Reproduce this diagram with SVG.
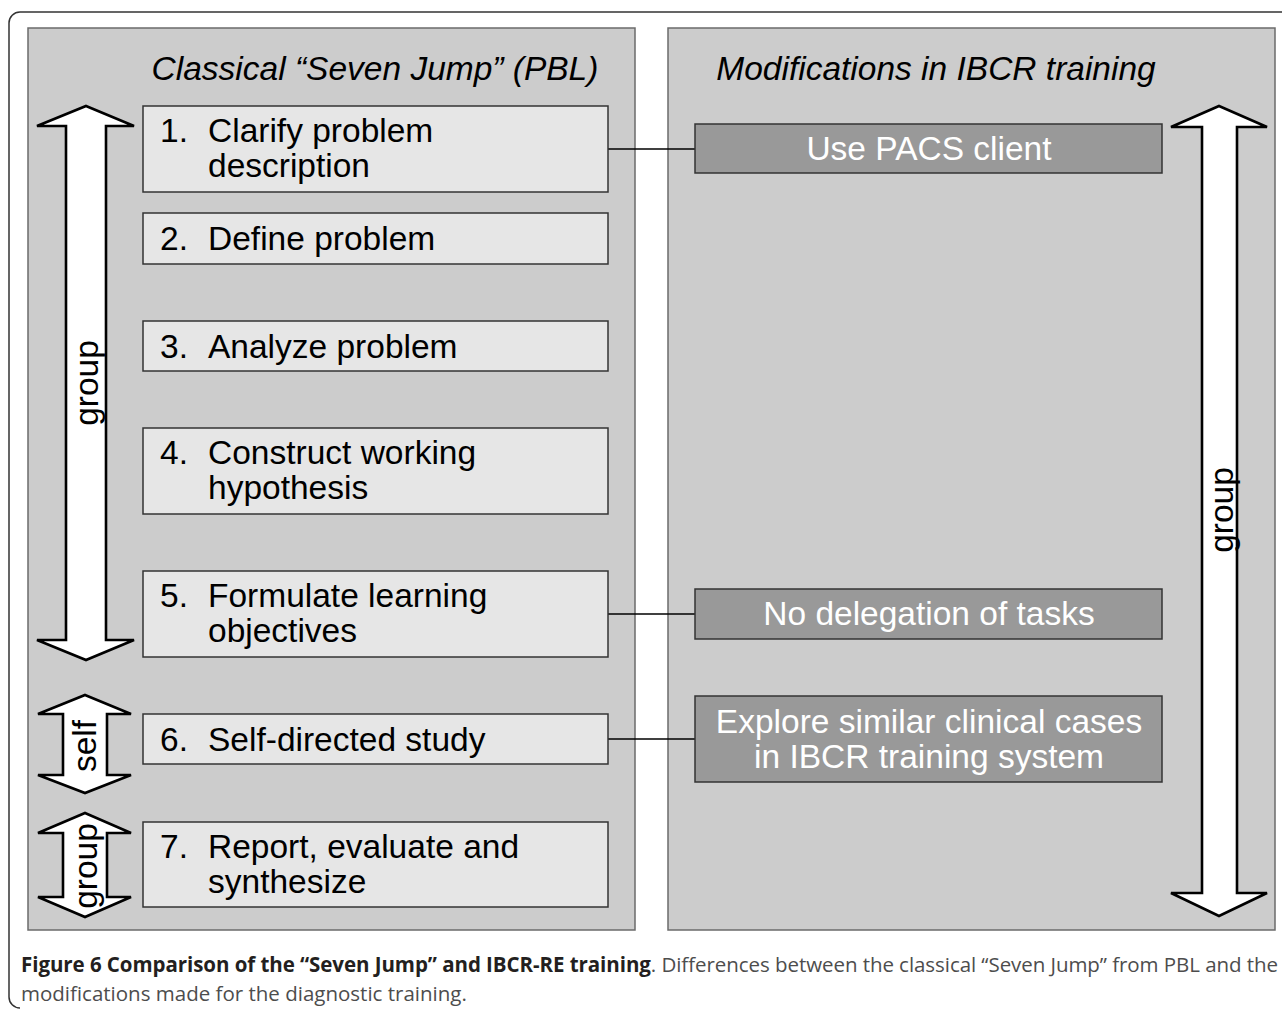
<svg xmlns="http://www.w3.org/2000/svg" width="1282" height="1009" viewBox="0 0 1282 1009">
<style>
.panel{fill:#cccccc;stroke:#6b6b6b;stroke-width:1.5}
.step{fill:#e6e6e6;stroke:#333;stroke-width:1.5}
.mod{fill:#999999;stroke:#333;stroke-width:1.5}
.arrow{fill:#fff;stroke:#000;stroke-width:2.6;stroke-linejoin:miter}
.t{font-family:"Liberation Sans",Arial,sans-serif;font-size:33.5px;fill:#000}
.ti{font-family:"Liberation Sans",Arial,sans-serif;font-size:33.5px;font-style:italic;fill:#000;text-anchor:middle}
.w{font-family:"Liberation Sans",Arial,sans-serif;font-size:33.5px;fill:#fff;text-anchor:middle}
.conn{stroke:#000;stroke-width:1.3;fill:none}
.cap{font-family:"Open Sans","Noto Sans",sans-serif;font-size:20.5px}
</style>
<path d="M1282,12 H20 A11,11 0 0 0 9,23 V997 A11,11 0 0 0 20,1008" fill="none" stroke="#333" stroke-width="1.5"/>
<g id="panel-left">
<rect class="panel" x="28" y="28" width="607" height="902"/>
<text class="ti" x="375" y="80">Classical “Seven Jump” (PBL)</text>
</g>
<g id="panel-right">
<rect class="panel" x="668" y="28" width="607" height="902"/>
<text class="ti" x="936" y="80">Modifications in IBCR training</text>
</g>
<g id="arrow-group-left">
<polygon class="arrow" points="86,106 134,126 106,126 106,640 134,640 86,660 37,640 66,640 66,126 37,126"/>
<text class="t" transform="translate(98,383) rotate(-90)" text-anchor="middle">group</text>
</g>
<g id="arrow-self">
<polygon class="arrow" points="85,695 131,714 107,714 107,775 131,775 85,793 38,775 63,775 63,714 38,714"/>
<text class="t" transform="translate(96,746) rotate(-90)" text-anchor="middle">self</text>
</g>
<g id="arrow-group-small">
<polygon class="arrow" points="85,813 131,833 107,833 107,897 131,897 85,917 38,897 63,897 63,833 38,833"/>
<text class="t" transform="translate(97,866) rotate(-90)" text-anchor="middle">group</text>
</g>
<g id="arrow-group-right">
<polygon class="arrow" points="1219,106 1267,127 1237,127 1237,893 1267,893 1219,916 1171,893 1202,893 1202,127 1171,127"/>
<text class="t" transform="translate(1233,510) rotate(-90)" text-anchor="middle">group</text>
</g>
<g id="connectors">
<line class="conn" x1="608" y1="149" x2="695" y2="149"/>
<line class="conn" x1="608" y1="614" x2="695" y2="614"/>
<line class="conn" x1="608" y1="739" x2="695" y2="739"/>
</g>
<g id="step1">
<rect class="step" x="143" y="106" width="465" height="86"/>
<text class="t" x="160" y="142">1.</text>
<text class="t" x="208" y="142">Clarify problem</text>
<text class="t" x="208" y="177">description</text>
</g>
<g id="step2">
<rect class="step" x="143" y="213" width="465" height="51"/>
<text class="t" x="160" y="250">2.</text>
<text class="t" x="208" y="250">Define problem</text>
</g>
<g id="step3">
<rect class="step" x="143" y="321" width="465" height="50"/>
<text class="t" x="160" y="358">3.</text>
<text class="t" x="208" y="358">Analyze problem</text>
</g>
<g id="step4">
<rect class="step" x="143" y="428" width="465" height="86"/>
<text class="t" x="160" y="464">4.</text>
<text class="t" x="208" y="464">Construct working</text>
<text class="t" x="208" y="499">hypothesis</text>
</g>
<g id="step5">
<rect class="step" x="143" y="571" width="465" height="86"/>
<text class="t" x="160" y="607">5.</text>
<text class="t" x="208" y="607">Formulate learning</text>
<text class="t" x="208" y="642">objectives</text>
</g>
<g id="step6">
<rect class="step" x="143" y="714" width="465" height="50"/>
<text class="t" x="160" y="751">6.</text>
<text class="t" x="208" y="751">Self-directed study</text>
</g>
<g id="step7">
<rect class="step" x="143" y="822" width="465" height="85"/>
<text class="t" x="160" y="858">7.</text>
<text class="t" x="208" y="858">Report, evaluate and</text>
<text class="t" x="208" y="893">synthesize</text>
</g>
<g id="mod-pacs">
<rect class="mod" x="695" y="124" width="467" height="49"/>
<text class="w" x="929" y="160">Use PACS client</text>
</g>
<g id="mod-delegation">
<rect class="mod" x="695" y="589" width="467" height="50"/>
<text class="w" x="929" y="625">No delegation of tasks</text>
</g>
<g id="mod-explore">
<rect class="mod" x="695" y="696" width="467" height="86"/>
<text class="w" x="929" y="733">Explore similar clinical cases</text>
<text class="w" x="929" y="768">in IBCR training system</text>
</g>
<g id="caption">
<text class="cap" x="21" y="972" textLength="1257" lengthAdjust="spacing"><tspan font-weight="bold" fill="#231f20">Figure 6 Comparison of the “Seven Jump” and IBCR-RE training</tspan><tspan fill="#4d4d4d">. Differences between the classical “Seven Jump” from PBL and the</tspan></text>
<text class="cap" x="21" y="1001" fill="#4d4d4d">modifications made for the diagnostic training.</text>
</g>
</svg>
